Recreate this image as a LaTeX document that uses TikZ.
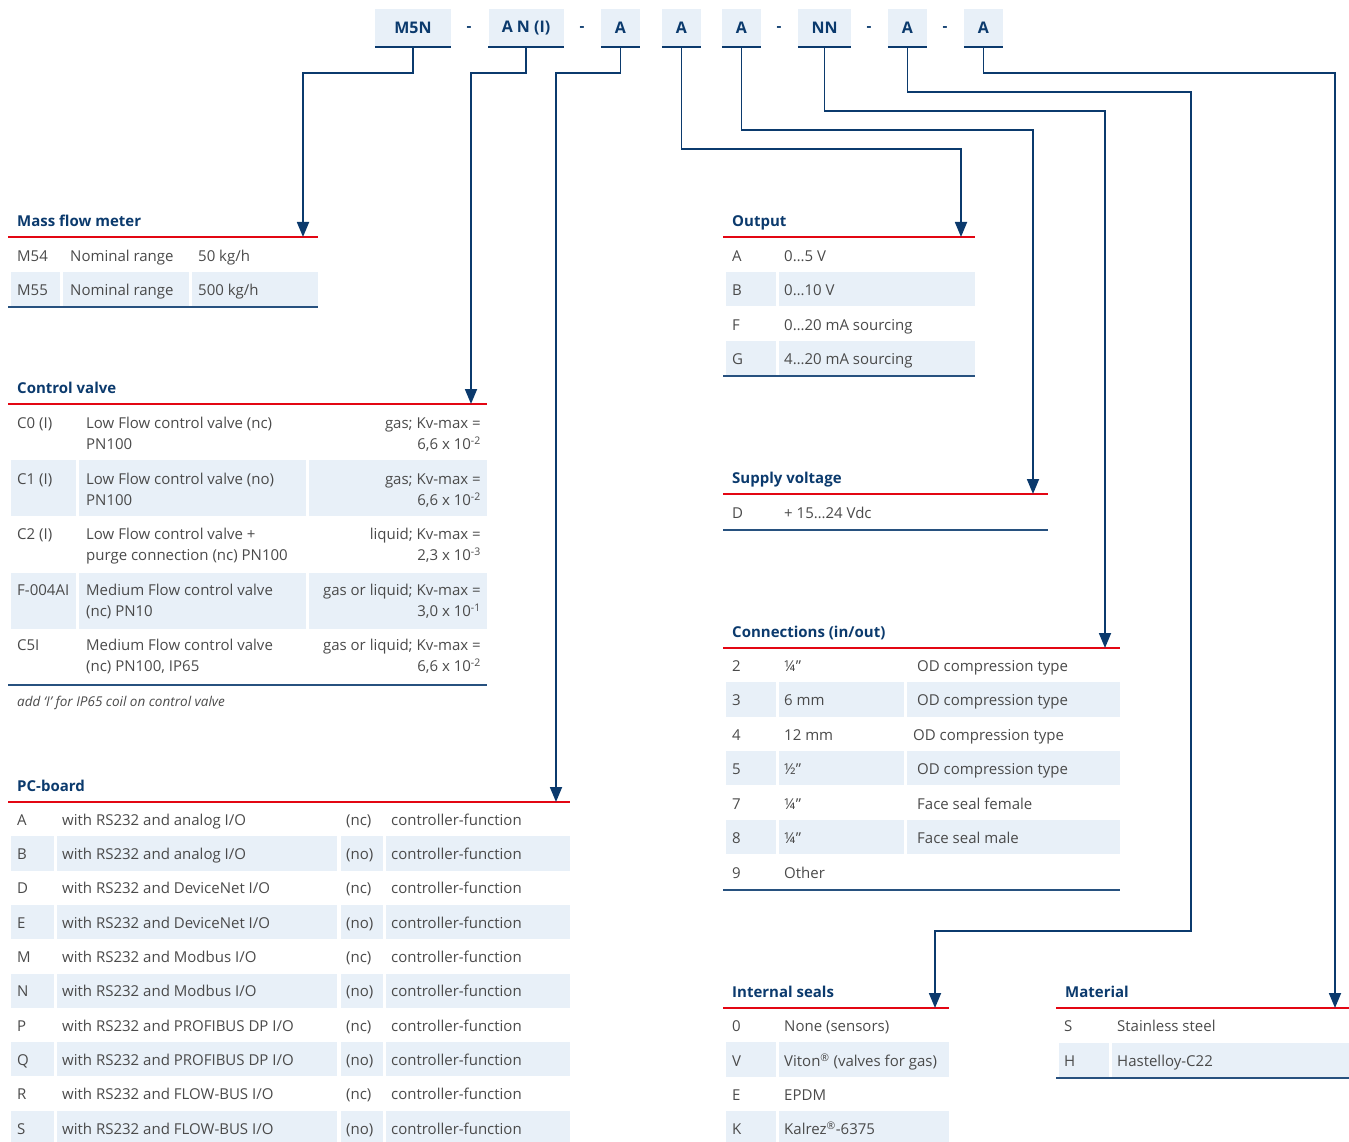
\documentclass[tikz,border=0pt]{standalone}
\usepackage{fontspec}
\setmainfont{Open Sans}
\usetikzlibrary{arrows.meta}
\definecolor{navy}{HTML}{0B3A6D}
\definecolor{redl}{HTML}{E30613}
\definecolor{shade}{HTML}{E8F0F8}
\definecolor{txtg}{HTML}{4A4A4A}
\definecolor{botl}{HTML}{27517F}
\newcommand{\tp}[1]{10\textsuperscript{#1}}
\tikzset{
 txt/.style={anchor=west, inner sep=0pt, text height=12pt, text depth=1.3pt, font=\fontsize{15}{18}\selectfont, text=txtg},
 txtr/.style={txt, anchor=east},
 ttl/.style={anchor=west, inner sep=0pt, text height=12pt, text depth=1.3pt, font=\fontsize{15}{18}\selectfont\bfseries, text=navy},
 codebox/.style={fill=shade, inner sep=0pt, minimum height=38pt, font=\fontsize{16}{18}\selectfont\bfseries, text=navy},
 dashtxt/.style={inner sep=0pt, font=\fontsize{15}{18}\selectfont\bfseries, text=navy},
 conn/.style={draw=navy, line width=1.8pt, -{Triangle[width=12pt,length=15pt]}},
 redrule/.style={draw=redl, line width=1.6pt},
 botrule/.style={draw=botl, line width=2pt},
 cell/.style={fill=shade},
 boxline/.style={draw=navy, line width=1.8pt},
}
\begin{document}
\begin{tikzpicture}[x=1pt,y=-1pt]
\useasboundingbox (0,0) rectangle (1349,1142);
% ---------- code boxes ----------
\node[codebox, minimum width=76pt] (c1) at (413,28) {M5N};
\node[codebox, minimum width=75pt] (c2) at (526,28) {A N (I)};
\node[codebox, minimum width=39pt] (c3) at (620.5,28) {A};
\node[codebox, minimum width=39pt] (c4) at (681.5,28) {A};
\node[codebox, minimum width=39pt] (c5) at (741.5,28) {A};
\node[codebox, minimum width=53pt] (c6) at (824.5,28) {NN};
\node[codebox, minimum width=39pt] (c7) at (907.5,28) {A};
\node[codebox, minimum width=39pt] (c8) at (983.5,28) {A};
\foreach \n in {c1,c2,c3,c4,c5,c6,c7,c8} \draw[boxline] (\n.south west) -- (\n.south east);
\node[dashtxt] (d1) at (469,29) {-};
\node[dashtxt] (d2) at (582,29) {-};
\node[dashtxt] (d3) at (779,29) {-};
\node[dashtxt] (d4) at (869,29) {-};
\node[dashtxt] (d5) at (945,29) {-};
% ---------- connector coordinates ----------
\coordinate (k1) at (303,73);   \coordinate (t1) at (303,237);
\coordinate (k2) at (471,73);   \coordinate (t2) at (471,404);
\coordinate (k3) at (556,73);   \coordinate (t3) at (556,802);
\coordinate (k4) at (961,149);  \coordinate (t4) at (961,237);
\coordinate (k5) at (1033,130); \coordinate (t5) at (1033,494);
\coordinate (k6) at (1105,111); \coordinate (t6) at (1105,648);
\coordinate (k7) at (1191,92);  \coordinate (m7) at (1191,931); \coordinate (t7) at (935,1008);
\coordinate (k8) at (1335,73);  \coordinate (t8) at (1335,1008);
% ---------- shading ----------
\fill[cell] (11,272) rectangle (60,306);
\fill[cell] (63,272) rectangle (189,306);
\fill[cell] (192,272) rectangle (318,306);
\foreach \ya/\yb in {460/516, 573/629} {
 \fill[cell] (11,\ya) rectangle (76,\yb);
 \fill[cell] (79,\ya) rectangle (306,\yb);
 \fill[cell] (309,\ya) rectangle (487,\yb);
}
\foreach \i in {1,3,5,7,9} {
 \pgfmathsetmacro\ya{802+34.3*\i}
 \pgfmathsetmacro\yb{\ya+34.3}
 \fill[cell] (11,\ya) rectangle (54,\yb);
 \fill[cell] (57,\ya) rectangle (337,\yb);
 \fill[cell] (341,\ya) rectangle (383,\yb);
 \fill[cell] (386,\ya) rectangle (570,\yb);
}
\foreach \ya in {272, 341} {
 \fill[cell] (726,\ya) rectangle (776,\ya+34);
 \fill[cell] (779,\ya) rectangle (975,\ya+34);
}
\foreach \i in {1,3,5} {
 \pgfmathsetmacro\ya{648+34.3*\i}
 \pgfmathsetmacro\yb{\ya+34.3}
 \fill[cell] (726,\ya) rectangle (776,\yb);
 \fill[cell] (779,\ya) rectangle (904,\yb);
 \fill[cell] (907,\ya) rectangle (1120,\yb);
}
\foreach \i in {1,3} {
 \pgfmathsetmacro\ya{1008+34.3*\i}
 \pgfmathsetmacro\yb{\ya+34.3}
 \fill[cell] (726,\ya) rectangle (776,\yb);
 \fill[cell] (779,\ya) rectangle (949,\yb);
}
\fill[cell] (1059,1043) rectangle (1109,1077);
\fill[cell] (1112,1043) rectangle (1349,1077);
% ---------- rules ----------
\draw[redrule] (8,237) -- (318,237);   \draw[botrule] (8,307) -- (318,307);
\draw[redrule] (8,404) -- (487,404);   \draw[botrule] (8,685) -- (487,685);
\draw[redrule] (8,802) -- (570,802);
\draw[redrule] (723,237) -- (975,237); \draw[botrule] (723,376) -- (975,376);
\draw[redrule] (723,494) -- (1048,494); \draw[botrule] (723,530) -- (1048,530);
\draw[redrule] (723,648) -- (1120,648); \draw[botrule] (723,890) -- (1120,890);
\draw[redrule] (723,1008) -- (949,1008);
\draw[redrule] (1056,1008) -- (1349,1008); \draw[botrule] (1056,1078) -- (1349,1078);
% ---------- connectors ----------
\draw[conn] (c1.south) |- (k1) -- (t1);
\draw[conn] (c2.south) |- (k2) -- (t2);
\draw[conn] (c3.south) |- (k3) -- (t3);
\draw[conn] (c4.south) |- (k4) -- (t4);
\draw[conn] (c5.south) |- (k5) -- (t5);
\draw[conn] (c6.south) |- (k6) -- (t6);
\draw[conn] (c7.south) |- (k7) -- (m7) -| (t7);
\draw[conn] (c8.south) |- (k8) -- (t8);
% ---------- Mass flow meter ----------
\node[ttl] (mft) at (17,221) {Mass flow meter};
\node[txt] (mf1a) at (17,256) {M54};
\node[txt] (mf1b) at (70,256) {Nominal range};
\node[txt] (mf1c) at (198,256) {50 kg/h};
\node[txt] (mf2a) at (17,290) {M55};
\node[txt] (mf2b) at (70,290) {Nominal range};
\node[txt] (mf2c) at (198,290) {500 kg/h};
% ---------- Control valve ----------
\node[ttl] (cvt) at (17,388) {Control valve};
\node[txt] (cv1a) at (17,423) {C0 (I)};
\node[txt] (cv1b) at (86,423) {Low Flow control valve (nc)};
\node[txt] (cv1c) at (86,444) {PN100};
\node[txtr] (cv1d) at (481,423) {gas; Kv-max =};
\node[txtr] (cv1e) at (481,444) {6,6 x \tp{-2}};
\node[txt] (cv2a) at (17,479) {C1 (I)};
\node[txt] (cv2b) at (86,479) {Low Flow control valve (no)};
\node[txt] (cv2c) at (86,500) {PN100};
\node[txtr] (cv2d) at (481,479) {gas; Kv-max =};
\node[txtr] (cv2e) at (481,500) {6,6 x \tp{-2}};
\node[txt] (cv3a) at (17,534) {C2 (I)};
\node[txt] (cv3b) at (86,534) {Low Flow control valve +};
\node[txt] (cv3c) at (86,555) {purge connection (nc) PN100};
\node[txtr] (cv3d) at (481,534) {liquid; Kv-max =};
\node[txtr] (cv3e) at (481,555) {2,3 x \tp{-3}};
\node[txt] (cv4a) at (17,590) {F-004AI};
\node[txt] (cv4b) at (86,590) {Medium Flow control valve};
\node[txt] (cv4c) at (86,611) {(nc) PN10};
\node[txtr] (cv4d) at (481,590) {gas or liquid; Kv-max =};
\node[txtr] (cv4e) at (481,611) {3,0 x \tp{-1}};
\node[txt] (cv5a) at (17,645) {C5I};
\node[txt] (cv5b) at (86,645) {Medium Flow control valve};
\node[txt] (cv5c) at (86,666) {(nc) PN100, IP65};
\node[txtr] (cv5d) at (481,645) {gas or liquid; Kv-max =};
\node[txtr] (cv5e) at (481,666) {6,6 x \tp{-2}};
\node[txt, font=\fontsize{13.5}{16}\selectfont\itshape] (cvn) at (17,701) {add ‘I’ for IP65 coil on control valve};
% ---------- PC-board ----------
\node[ttl] (pct) at (17,786) {PC-board};
\foreach \k/\bus/\st [count=\i from 0] in {A/analog/nc, B/analog/no, D/DeviceNet/nc, E/DeviceNet/no, M/Modbus/nc, N/Modbus/no, P/PROFIBUS DP/nc, Q/PROFIBUS DP/no, R/FLOW-BUS/nc, S/FLOW-BUS/no} {
 \pgfmathsetmacro\yy{802+34.3*\i+18}
 \node[txt] (pc\i a) at (17,\yy) {\k};
 \node[txt] (pc\i b) at (62,\yy) {with RS232 and \bus\ I/O};
 \node[txt] (pc\i c) at (346,\yy) {(\st)};
 \node[txt] (pc\i d) at (391,\yy) {controller-function};
}
% ---------- Output ----------
\node[ttl] (out) at (732,221) {Output};
\node[txt] (o1a) at (732,256) {A}; \node[txt] (o1b) at (784,256) {0…5 V};
\node[txt] (o2a) at (732,290) {B}; \node[txt] (o2b) at (784,290) {0…10 V};
\node[txt] (o3a) at (732,325) {F}; \node[txt] (o3b) at (784,325) {0…20 mA sourcing};
\node[txt] (o4a) at (732,359) {G}; \node[txt] (o4b) at (784,359) {4…20 mA sourcing};
% ---------- Supply voltage ----------
\node[ttl] (sv) at (732,478) {Supply voltage};
\node[txt] (sv1a) at (732,513) {D}; \node[txt] (sv1b) at (784,513) {+ 15…24 Vdc};
% ---------- Connections ----------
\node[ttl] (con) at (732,632) {Connections (in/out)};
\node[txt] (cn1a) at (732,666) {2}; \node[txt] (cn1b) at (784,666) {¼”}; \node[txt] (cn1c) at (917,666) {OD compression type};
\node[txt] (cn2a) at (732,700) {3}; \node[txt] (cn2b) at (784,700) {6 mm}; \node[txt] (cn2c) at (917,700) {OD compression type};
\node[txt] (cn3a) at (732,735) {4}; \node[txt] (cn3b) at (784,735) {12 mm}; \node[txt] (cn3c) at (913,735) {OD compression type};
\node[txt] (cn4a) at (732,769) {5}; \node[txt] (cn4b) at (784,769) {½”}; \node[txt] (cn4c) at (917,769) {OD compression type};
\node[txt] (cn5a) at (732,804) {7}; \node[txt] (cn5b) at (784,804) {¼”}; \node[txt] (cn5c) at (917,804) {Face seal female};
\node[txt] (cn6a) at (732,838) {8}; \node[txt] (cn6b) at (784,838) {¼”}; \node[txt] (cn6c) at (917,838) {Face seal male};
\node[txt] (cn7a) at (732,873) {9}; \node[txt] (cn7b) at (784,873) {Other};
% ---------- Internal seals ----------
\node[ttl] (isl) at (732,992) {Internal seals};
\node[txt] (is1a) at (732,1026) {0}; \node[txt] (is1b) at (784,1026) {None (sensors)};
\node[txt] (is2a) at (732,1061) {V}; \node[txt] (is2b) at (784,1061) {Viton\textsuperscript{®} (valves for gas)};
\node[txt] (is3a) at (732,1095) {E}; \node[txt] (is3b) at (784,1095) {EPDM};
\node[txt] (is4a) at (732,1129) {K}; \node[txt] (is4b) at (784,1129) {Kalrez\textsuperscript{®}-6375};
% ---------- Material ----------
\node[ttl] (mat) at (1065,992) {Material};
\node[txt] (ma1a) at (1064,1026) {S}; \node[txt] (ma1b) at (1117,1026) {Stainless steel};
\node[txt] (ma2a) at (1064,1061) {H}; \node[txt] (ma2b) at (1117,1061) {Hastelloy-C22};
\end{tikzpicture}
\end{document}
